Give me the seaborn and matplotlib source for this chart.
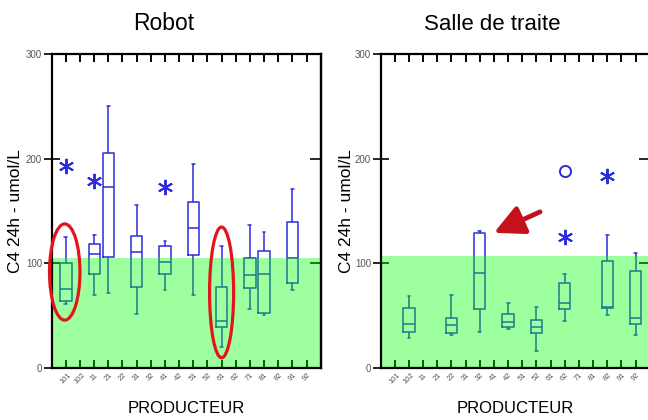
import numpy as np
import pandas as pd
import seaborn as sns
import matplotlib.pyplot as plt
from matplotlib.patches import Ellipse

producers = ['101', '102', '11', '21', '22', '31', '32', '41', '42', '51',
             '52', '61', '62', '71', '81', '82', '91', '92']

# Robot : five-number summary per producer (min, q1, median, q3, max)
robot_prod = ['101', '11', '21', '31', '41', '51', '61', '71', '81', '91']
robot_lo = [61, 70, 71, 51, 74, 70, 20, 56, 50, 74]
robot_q1 = [64, 90, 106, 77, 90, 108, 39, 76, 52, 81]
robot_med = [75, 109, 173, 111, 101, 134, 45, 89, 90, 105]
robot_q3 = [100, 118, 205, 126, 116, 158, 77, 105, 112, 139]
robot_hi = [125, 127, 250, 156, 121, 195, 116, 136, 130, 171]
robot_star_prod = ['101', '11', '41']
robot_star_val = [193, 179, 173]

# Salle de traite
salle_prod = ['102', '22', '32', '42', '52', '62', '82', '92']
salle_lo = [28, 31, 34, 37, 16, 45, 50, 31]
salle_q1 = [34, 33, 56, 39, 33, 56, 57, 42]
salle_med = [42, 41, 91, 44, 39, 62, 58, 48]
salle_q3 = [57, 48, 129, 51, 46, 81, 102, 92]
salle_hi = [69, 70, 131, 62, 58, 90, 127, 110]
salle_star_prod = ['62', '82']
salle_star_val = [125, 183]
salle_circle_prod = ['62']
salle_circle_val = [188]

# upper limit of the green reference zone
ref_limit = [105, 107]

BLUE = '#2b2bdc'
RED = '#e3141c'

sns.set_style('ticks')
plt.rcParams['font.family'] = ['Liberation Sans', 'DejaVu Sans']
plt.rcParams['text.color'] = 'black'
plt.rcParams['axes.labelcolor'] = 'black'


def five_num_frame(prod, lo, q1, med, q3, hi):
    rows = []
    for p, *vals in zip(prod, lo, q1, med, q3, hi):
        rows += [(p, v) for v in vals]
    return pd.DataFrame(rows, columns=['producteur', 'c4'])


def draw_panel(ax, df, stars_prod, stars_val, limit):
    sns.boxplot(data=df, x='producteur', y='c4', order=producers, whis=(0, 100),
                fill=False, color=BLUE, width=0.8, linewidth=1.1,
                showfliers=False, ax=ax)
    # tiny caps like the original
    for c in ax.containers:
        for cap in c.caps:
            m = np.mean(cap.get_xdata())
            cap.set_xdata([m - 0.1, m + 0.1])

    xs = [producers.index(p) for p in stars_prod]
    ax.plot(xs, stars_val, ls='none', marker=(6, 2, 0), ms=11, mew=1.4,
            color=BLUE, zorder=4)

    # translucent green band drawn over the boxes
    ax.axhspan(0, limit, color=(0, 1, 0), alpha=0.38, lw=0, zorder=3)

    ax.set_xlim(-1, 18)
    ax.set_ylim(0, 300)
    ax.set_yticks([0, 100, 200, 300])
    ax.set_xticks(range(len(producers)))
    ax.set_xticklabels(producers, rotation=45, fontsize=5.5, color='#555555')
    for lab in ax.get_yticklabels():
        lab.set_fontsize(7)
        lab.set_color('#555555')
    ax.tick_params(axis='x', which='major', direction='in', length=6, width=1.4,
                   top=True, bottom=True, pad=3, colors='black', labelcolor='#555555')
    ax.tick_params(axis='y', which='major', direction='inout', length=12, width=1.4,
                   left=True, right=False, pad=1)
    sec = ax.secondary_yaxis('right')
    sec.set_yticks([0, 100, 200, 300])
    sec.set_yticklabels([])
    sec.tick_params(direction='in', length=8, width=1.4)
    sec.spines['right'].set_linewidth(1.6)
    for s in ax.spines.values():
        s.set_visible(True)
        s.set_linewidth(1.6)
        s.set_color('black')
        s.set_zorder(4)

    ax.set_xlabel('PRODUCTEUR', fontsize=12, va='baseline')
    ax.xaxis.set_label_coords(0.5, -0.1435)
    ax.set_ylabel('C4 24h - umol/L', fontsize=12.5)


fig = plt.figure(figsize=(6.48, 4.2), dpi=100)
ax1 = fig.add_axes([0.0798, 0.1245, 0.4151, 0.747])
ax2 = fig.add_axes([0.5875, 0.1245, 0.4151, 0.747])

robot_df = five_num_frame(robot_prod, robot_lo, robot_q1, robot_med, robot_q3, robot_hi)
salle_df = five_num_frame(salle_prod, salle_lo, salle_q1, salle_med, salle_q3, salle_hi)

draw_panel(ax1, robot_df, robot_star_prod, robot_star_val, ref_limit[0])
draw_panel(ax2, salle_df, salle_star_prod, salle_star_val, ref_limit[1])

ax2.plot([producers.index(p) for p in salle_circle_prod], salle_circle_val,
         ls='none', marker='o', ms=8, mew=1.4, mfc='none', color=BLUE, zorder=4)

ax1.yaxis.set_label_coords(-0.105, 0.5)
ax2.yaxis.set_label_coords(-0.098, 0.5)

# red highlights
ax1.add_patch(Ellipse((-0.08, 91.5), 2.15, 92, fill=False, ec=RED, lw=2.3,
                      zorder=6, clip_on=False))
ax1.add_patch(Ellipse((11, 72), 1.7, 125, fill=False, ec=RED, lw=2.3, zorder=6))
ax2.annotate('', xy=(7.0, 129), xytext=(10.25, 149),
             arrowprops=dict(arrowstyle='-|>,head_length=0.9,head_width=0.45',
                             color='#c4121a', lw=3.5, mutation_scale=20,
                             shrinkA=0, shrinkB=0),
             zorder=6)

fig.text(164 / 648, 1 - 30 / 420, 'Robot', ha='center', va='baseline', fontsize=16.5)
fig.text(492.5 / 648, 1 - 30 / 420, 'Salle de traite', ha='center', va='baseline',
         fontsize=16)

fig.savefig('out.png', dpi=100)
